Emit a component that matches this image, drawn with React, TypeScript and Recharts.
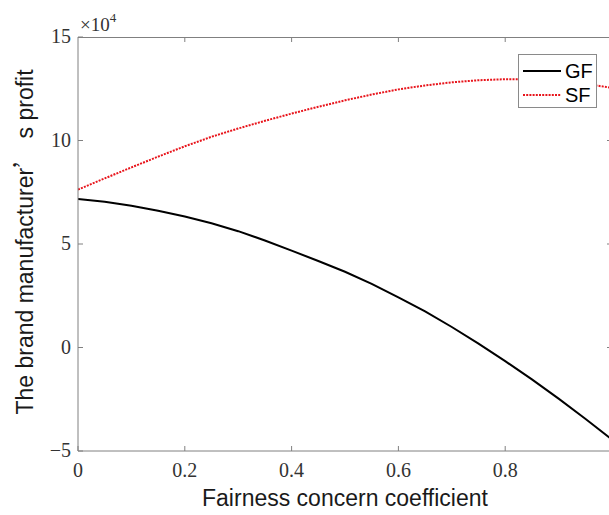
import React from 'react';
import { LineChart, Line, XAxis, YAxis, Legend, Label } from 'recharts';

// fairness concern coefficient (x)
const coef = [0, 0.05, 0.1, 0.15, 0.2, 0.25, 0.3, 0.35, 0.4, 0.45, 0.5, 0.55, 0.6, 0.65, 0.7, 0.75, 0.8, 0.85, 0.9, 0.95, 1];
// brand manufacturer's profit, GF
const gfProfit = [71800, 70400, 68500, 66100, 63300, 60000, 56200, 51700, 46800, 41800, 36600, 30700, 24200, 17400, 9900, 1900, -6600, -15400, -24700, -34400, -44500];
// brand manufacturer's profit, SF
const sfProfit = [76300, 81700, 87000, 92200, 97200, 101800, 105800, 109500, 113000, 116300, 119400, 122200, 124700, 126600, 128100, 129100, 129600, 129500, 128800, 127400, 125400];

const xTicks = [0, 0.2, 0.4, 0.6, 0.8];
const yTicks = [-50000, 0, 50000, 100000, 150000];
const xDomain = [0, 1];
const yDomain = [-50000, 150000];

const data = coef.map((c, i) => ({ c, GF: gfProfit[i], SF: sfProfit[i] }));

const AXIS = '#808080';
const SERIF = '"Liberation Serif", "Times New Roman", serif';
const SANS = '"Liberation Sans", Arial, sans-serif';

const W = 640;
const H = 515;
const M = { top: 37, right: 28, bottom: 34, left: 0 };
const Y_AXIS_W = 78;
const X_AXIS_H = 30;

const fmtY = (v: number) => {
  const n = v / 10000;
  return n < 0 ? `\u2212${Math.abs(n)}` : `${n}`;
};

const BottomTick = (props: any) => {
  const { x, y, payload } = props;
  return (
    <g>
      <line x1={x} y1={y} x2={x} y2={y - 5} stroke={AXIS} />
      <text x={x} y={y + 26} textAnchor="middle" fontFamily={SERIF} fontSize={20} fill="#333">
        {payload.value}
      </text>
    </g>
  );
};

const LeftTick = (props: any) => {
  const { x, y, payload } = props;
  return (
    <g>
      <line x1={x} y1={y} x2={x + 5} y2={y} stroke={AXIS} />
      <text x={x - 7} y={y + 6} textAnchor="end" fontFamily={SERIF} fontSize={20} fill="#333">
        {fmtY(payload.value)}
      </text>
    </g>
  );
};

// top border + mirrored inward ticks (top and right), from the chart layout
const frameLeft = M.left + Y_AXIS_W;
const frameRight = W - M.right;
const frameTop = M.top;
const frameBottom = H - M.bottom - X_AXIS_H;
const sx = (t: number) => frameLeft + ((t - xDomain[0]) / (xDomain[1] - xDomain[0])) * (frameRight - frameLeft);
const sy = (v: number) => frameBottom - ((v - yDomain[0]) / (yDomain[1] - yDomain[0])) * (frameBottom - frameTop);

const LegendBox = () => (
  <div
    style={{
      border: '1px solid #8a8a8a',
      background: '#fff',
      width: 79,
      height: 54,
      boxSizing: 'border-box',
      position: 'relative',
    }}
  >
    <svg width={79} height={54} style={{ position: 'absolute', left: 0, top: 0 }}>
      <line x1={4} y1={16} x2={42} y2={16} stroke="#000" strokeWidth={2} />
      <line x1={4} y1={40} x2={42} y2={40} stroke="#e8141b" strokeWidth={2} strokeDasharray="2 1.2" />
      <text x={46} y={23} fontFamily={SANS} fontSize={20}>GF</text>
      <text x={46} y={47} fontFamily={SANS} fontSize={20}>SF</text>
    </svg>
  </div>
);

export default function App() {
  return (
    <div style={{ position: 'fixed', left: 0, top: 0, width: 609, height: 515, overflow: 'hidden', background: '#fff' }}>
      <LineChart width={W} height={H} data={data} margin={M}>
        <XAxis
          dataKey="c"
          type="number"
          domain={xDomain}
          ticks={xTicks}
          interval={0}
          height={X_AXIS_H}
          stroke={AXIS}
          tickLine={false}
          tickSize={0}
          tickMargin={0}
          tick={<BottomTick />}
          allowDataOverflow
        >
          <Label
            content={() => (
              <text x={345} y={506} textAnchor="middle" fontFamily={SANS} fontSize={23} fill="#1a1a1a">
                Fairness concern coefficient
              </text>
            )}
          />
        </XAxis>
        <YAxis
          type="number"
          domain={yDomain}
          ticks={yTicks}
          interval={0}
          width={Y_AXIS_W}
          stroke={AXIS}
          tickLine={false}
          tickSize={0}
          tickMargin={0}
          tick={<LeftTick />}
          allowDataOverflow
        >
          <Label
            content={() => (
              <text
                transform="translate(33, 242) rotate(-90)"
                textAnchor="middle"
                fontFamily={SANS}
                fontSize={23}
                fill="#1a1a1a"
              >
                The brand manufacturer
                <tspan fontFamily='"Noto Sans CJK SC", sans-serif'>’</tspan> s profit
              </text>
            )}
          />
          <Label
            content={() => (
              <g>
                <text x={80} y={31} fontFamily={SERIF} fontSize={19} fill="#333">
                  ×10<tspan dy={-9} fontSize={13}>4</tspan>
                </text>
                <rect
                  x={frameLeft}
                  y={frameTop}
                  width={frameRight - frameLeft}
                  height={1}
                  fill={AXIS}
                />
                {xTicks.slice(1).map((t) => (
                  <rect key={`t${t}`} x={sx(t) - 0.5} y={frameTop} width={1} height={5} fill={AXIS} />
                ))}
                {yTicks.slice(1, -1).map((v) => (
                  <rect key={`r${v}`} x={frameRight - 5} y={sy(v) - 0.5} width={5} height={1} fill={AXIS} />
                ))}
              </g>
            )}
          />
        </YAxis>
        <Legend
          layout="horizontal"
          verticalAlign="middle"
          align="center"
          wrapperStyle={{ left: 518, top: 54, width: 79, height: 54 }}
          content={() => <LegendBox />}
        />
        <Line
          type="linear"
          dataKey="GF"
          stroke="#000"
          strokeWidth={2}
          dot={false}
          isAnimationActive={false}
        />
        <Line
          type="linear"
          dataKey="SF"
          stroke="#e8141b"
          strokeWidth={2}
          strokeDasharray="2 1.2"
          dot={false}
          isAnimationActive={false}
        />
      </LineChart>
    </div>
  );
}
